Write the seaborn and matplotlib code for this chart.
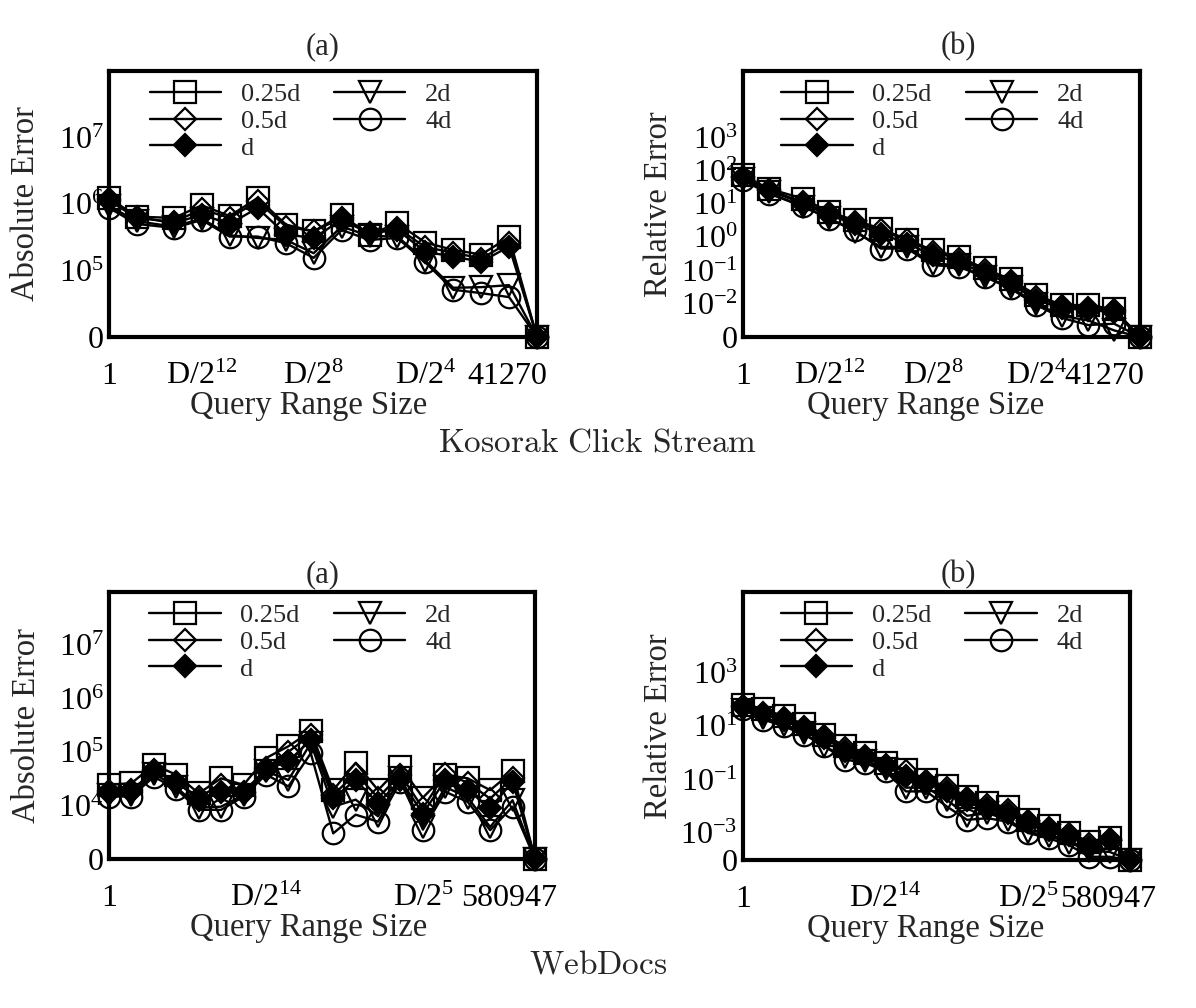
import numpy as np
import pandas as pd
import matplotlib
matplotlib.use("Agg")
import matplotlib.pyplot as plt
import seaborn as sns
from matplotlib.ticker import FixedLocator, NullLocator

sns.set_theme(style="white")
plt.rcParams.update({
    "font.family": ["Liberation Serif", "DejaVu Serif"],
    "mathtext.fontset": "custom",
    "mathtext.rm": "Liberation Serif",
    "mathtext.it": "Liberation Serif:italic",
    "mathtext.bf": "Liberation Serif:bold",
    "axes.edgecolor": "black",
    "axes.linewidth": 3.0,
    "xtick.color": "black",
    "ytick.color": "black",
})

# ---------------- data ----------------
series_names = ["0.25d", "0.5d", "d", "2d", "4d"]

# Kosorak Click Stream: query range sizes (1, 2, D/2^13 ... D)
kosarak_sizes = [1, 2, 5, 10, 20, 40, 81, 161, 322, 645, 1290, 2579, 5159, 10318, 20635, 41270]

kosarak_abs_025d = [1.23e6, 6.46e5, 6.17e5, 9.55e5, 6.61e5, 1.23e6, 4.90e5, 3.89e5, 6.76e5, 3.47e5, 5.13e5, 2.63e5, 2.04e5, 1.74e5, 3.16e5, 0]
kosarak_abs_05d = [1.12e6, 6.17e5, 5.37e5, 8.32e5, 6.17e5, 1.10e6, 4.57e5, 3.89e5, 6.17e5, 3.63e5, 4.37e5, 2.24e5, 1.86e5, 1.51e5, 2.63e5, 0]
kosarak_abs_d = [1.17e6, 6.46e5, 5.13e5, 6.92e5, 5.01e5, 8.71e5, 3.47e5, 3.09e5, 5.75e5, 3.63e5, 4.07e5, 1.91e5, 1.62e5, 1.35e5, 2.29e5, 0]
kosarak_abs_2d = [9.33e5, 5.50e5, 4.57e5, 6.03e5, 3.39e5, 3.09e5, 2.88e5, 1.82e5, 4.57e5, 3.31e5, 3.24e5, 1.41e5, 5.50e4, 5.62e4, 6.03e4, 0]
kosarak_abs_4d = [8.71e5, 5.01e5, 4.37e5, 5.75e5, 3.24e5, 3.24e5, 2.57e5, 1.55e5, 4.07e5, 2.88e5, 3.09e5, 1.32e5, 5.13e4, 4.57e4, 3.98e4, 0]

kosarak_rel_025d = [72.4, 28.8, 14.5, 5.75, 3.24, 1.82, 0.851, 0.407, 0.257, 0.115, 0.0537, 0.0182, 0.00912, 0.00912, 0.00692, 0]
kosarak_rel_05d = [63.1, 26.9, 11.2, 5.25, 2.88, 1.62, 0.813, 0.363, 0.224, 0.100, 0.0468, 0.0158, 0.00832, 0.00759, 0.00631, 0]
kosarak_rel_d = [64.6, 25.7, 10.2, 4.57, 2.57, 1.29, 0.646, 0.288, 0.182, 0.0813, 0.0407, 0.0129, 0.00741, 0.00646, 0.00562, 0]
kosarak_rel_2d = [55.0, 22.4, 8.13, 3.80, 1.45, 0.513, 0.513, 0.162, 0.145, 0.0646, 0.0316, 0.0100, 0.00427, 0.00316, 0.00158, 0]
kosarak_rel_4d = [51.3, 20.4, 8.51, 3.63, 1.62, 0.457, 0.457, 0.145, 0.129, 0.0646, 0.0288, 0.00912, 0.00372, 0.00229, 0.00251, 0]

# WebDocs: query points (equally spaced positions on the axis)
webdocs_points = [0, 1, 2, 3, 4, 5, 6, 7, 8, 9, 10, 11, 12, 13, 14, 15, 16, 17, 18, 19]

webdocs_abs_025d = [2.45e4, 2.63e4, 5.75e4, 3.80e4, 1.70e4, 3.24e4, 2.45e4, 7.76e4, 1.29e5, 2.45e5, 1.95e4, 6.31e4, 1.95e4, 5.37e4, 1.41e4, 3.80e4, 3.24e4, 1.95e4, 4.37e4, 0]
webdocs_abs_05d = [1.86e4, 1.78e4, 4.68e4, 2.63e4, 1.48e4, 2.40e4, 1.70e4, 5.01e4, 1.02e5, 2.09e5, 1.58e4, 3.98e4, 1.41e4, 3.80e4, 8.91e3, 3.98e4, 2.69e4, 1.35e4, 3.31e4, 0]
webdocs_abs_d = [1.74e4, 1.95e4, 4.37e4, 2.82e4, 1.29e4, 1.82e4, 1.82e4, 4.68e4, 6.76e4, 1.70e5, 1.38e4, 3.02e4, 1.10e4, 3.02e4, 7.08e3, 3.02e4, 1.95e4, 8.91e3, 2.82e4, 0]
webdocs_abs_2d = [1.58e4, 1.58e4, 3.98e4, 2.24e4, 9.12e3, 9.55e3, 1.58e4, 4.37e4, 3.02e4, 1.48e5, 9.55e3, 1.29e4, 6.31e3, 3.31e4, 3.98e3, 2.24e4, 1.41e4, 3.98e3, 1.26e4, 0]
webdocs_abs_4d = [1.48e4, 1.48e4, 3.47e4, 2.04e4, 8.32e3, 8.32e3, 1.48e4, 3.80e4, 2.29e4, 9.55e4, 3.02e3, 6.76e3, 5.01e3, 2.82e4, 3.55e3, 1.82e4, 1.17e4, 3.47e3, 9.55e3, 0]

webdocs_rel_025d = [60.3, 41.7, 23.4, 11.5, 4.79, 1.74, 1.00, 0.417, 0.234, 0.100, 0.0562, 0.0234, 0.0132, 0.00912, 0.00316, 0.00178, 0.00100, 0.00049, 0.000646, 0]
webdocs_rel_05d = [50.1, 31.6, 20.0, 8.91, 4.17, 1.51, 0.741, 0.363, 0.204, 0.0871, 0.0479, 0.0204, 0.0112, 0.00708, 0.00282, 0.00158, 0.000933, 0.000398, 0.000603, 0]
webdocs_rel_d = [55.0, 26.9, 17.4, 7.41, 3.63, 1.15, 0.646, 0.316, 0.132, 0.0741, 0.0363, 0.0178, 0.00851, 0.00562, 0.00251, 0.00132, 0.000851, 0.000316, 0.000562, 0]
webdocs_rel_2d = [39.8, 19.1, 11.2, 5.25, 1.74, 0.708, 0.479, 0.240, 0.0501, 0.0501, 0.0178, 0.00447, 0.00562, 0.00316, 0.00112, 0.000794, 0.000447, 0.000224, 0.000200, 0]
webdocs_rel_4d = [41.7, 17.4, 9.77, 4.79, 1.74, 0.562, 0.417, 0.204, 0.0363, 0.0363, 0.0100, 0.00316, 0.00363, 0.00269, 0.00102, 0.000646, 0.000363, 0.000132, 0.000132, 0]

kosarak_D = 41270
webdocs_D = 580947

# ---------------- styles ----------------
MARKERS = {"0.25d": "s", "0.5d": "D", "d": "D", "2d": "v", "4d": "o"}
MSIZE = {"0.25d": 15.5, "0.5d": 11.0, "d": 11.0, "2d": 15.5, "4d": 15.5}
FACE = {"0.25d": "none", "0.5d": "none", "d": "black", "2d": "none", "4d": "none"}
ZORD = {"0.25d": 3, "0.5d": 4, "d": 6, "2d": 5, "4d": 5}

W, H = 1196, 1008
fig = plt.figure(figsize=(W / 100, H / 100), dpi=100)


def rect(x0, y0, x1, y1):
    return [x0 / W, 1 - y1 / H, (x1 - x0) / W, (y1 - y0) / H]


def make_scale(floor):
    lo = 10.0 ** floor

    def fwd(v):
        v = np.asarray(v, dtype=float)
        return np.log10(np.maximum(v, lo))

    def inv(y):
        return 10.0 ** np.asarray(y, dtype=float)

    return fwd, inv


panels = [
    dict(box=(109, 71, 537, 337), x=kosarak_sizes, xlog=True,
         ys=[kosarak_abs_025d, kosarak_abs_05d, kosarak_abs_d, kosarak_abs_2d, kosarak_abs_4d],
         floor=4, top=1e8, yticks=[0, 1e5, 1e6, 1e7],
         ylabels=["0", "$10^{5}$", "$10^{6}$", "$10^{7}$"], ylabel="Absolute Error",
         xticks=[1, kosarak_D / 2**12, kosarak_D / 2**8, kosarak_D / 2**4],
         xlabels=["1", "D/2$^{12}$", "D/2$^{8}$", "D/2$^{4}$"],
         endpos=2**14.26, endlabel=str(kosarak_D), ylc=-0.158, xlc=0.467),
    dict(box=(743, 71, 1140, 337), x=kosarak_sizes, xlog=True,
         ys=[kosarak_rel_025d, kosarak_rel_05d, kosarak_rel_d, kosarak_rel_2d, kosarak_rel_4d],
         floor=-3, top=1e5, yticks=[0, 1e-2, 1e-1, 1e0, 1e1, 1e2, 1e3],
         ylabels=["0", "$10^{-2}$", "$10^{-1}$", "$10^{0}$", "$10^{1}$", "$10^{2}$", "$10^{3}$"],
         ylabel="Relative Error",
         xticks=[1, kosarak_D / 2**12, kosarak_D / 2**8, kosarak_D / 2**4],
         xlabels=["1", "D/2$^{12}$", "D/2$^{8}$", "D/2$^{4}$"],
         endpos=2**13.95, endlabel=str(kosarak_D), ylc=-0.175, xlc=0.461),
    dict(box=(109, 592, 535, 859), x=webdocs_points, xlog=False,
         ys=[webdocs_abs_025d, webdocs_abs_05d, webdocs_abs_d, webdocs_abs_2d, webdocs_abs_4d],
         floor=3, top=1e8, yticks=[0, 1e4, 1e5, 1e6, 1e7],
         ylabels=["0", "$10^{4}$", "$10^{5}$", "$10^{6}$", "$10^{7}$"], ylabel="Absolute Error",
         xticks=[0, 7, 14], xlabels=["1", "D/2$^{14}$", "D/2$^{5}$"],
         endpos=17.85, endlabel=str(webdocs_D), ylc=-0.158, xlc=0.469),
    dict(box=(743, 592, 1130, 860), x=webdocs_points, xlog=False,
         ys=[webdocs_rel_025d, webdocs_rel_05d, webdocs_rel_d, webdocs_rel_2d, webdocs_rel_4d],
         floor=-4, top=1e6, yticks=[0, 1e-3, 1e-1, 1e1, 1e3],
         ylabels=["0", "$10^{-3}$", "$10^{-1}$", "$10^{1}$", "$10^{3}$"], ylabel="Relative Error",
         xticks=[0, 7, 14], xlabels=["1", "D/2$^{14}$", "D/2$^{5}$"],
         endpos=17.95, endlabel=str(webdocs_D), ylc=-0.178, xlc=0.473),
]

TICKFS = 23
LABFS = 23.5
for p in panels:
    ax = fig.add_axes(rect(*p["box"]))
    for name, yv in zip(series_names, p["ys"]):
        df = pd.DataFrame({"x": p["x"], "y": yv})
        sns.lineplot(data=df, x="x", y="y", ax=ax, color="black", linewidth=1.7,
                     marker=MARKERS[name], markersize=MSIZE[name],
                     markerfacecolor=FACE[name], markeredgecolor="black",
                     markeredgewidth=1.6, clip_on=False, zorder=ZORD[name],
                     label=name, estimator=None, sort=False, legend=False)
    fwd, inv = make_scale(p["floor"])
    ax.set_yscale("function", functions=(fwd, inv))
    ax.set_ylim(0, p["top"])
    ax.yaxis.set_major_locator(FixedLocator(p["yticks"]))
    ax.set_yticklabels(p["ylabels"])
    ax.yaxis.set_minor_locator(NullLocator())
    if p["xlog"]:
        ax.set_xscale("log", base=2)
    ax.set_xlim(p["x"][0], p["x"][-1])
    ax.set_xticks(p["xticks"])
    ax.set_xticklabels(p["xlabels"])
    ax.set_xticks([p["endpos"]], minor=True)
    ax.set_xticklabels([p["endlabel"]], minor=True)
    ax.tick_params(axis="both", which="major", direction="in", length=6, width=1.2,
                   labelsize=TICKFS)
    ax.tick_params(axis="x", which="both", pad=34, labelsize=TICKFS)
    ax.tick_params(axis="x", which="minor", length=0)
    ax.tick_params(axis="y", pad=4)
    for lab in ax.get_xticklabels(which="both"):
        lab.set_verticalalignment("baseline")
    ax.tick_params(top=False, right=False)
    ax.set_ylabel(p["ylabel"], fontsize=LABFS)
    ax.yaxis.set_label_coords(p["ylc"], 0.5)
    ax.set_xlabel("Query Range Size", fontsize=LABFS, va="top")
    ax.xaxis.set_label_coords(p["xlc"], -0.2)
    for s in ax.spines.values():
        s.set_linewidth(3.0)
        s.set_zorder(10)
    handles, labels = ax.get_legend_handles_labels()
    ax.legend(handles, labels, ncol=2, loc="upper left", bbox_to_anchor=(0.07, 0.995),
              frameon=False, fontsize=19, handlelength=2.7, handletextpad=0.75,
              columnspacing=1.3, labelspacing=0.12, borderaxespad=0, numpoints=1)

for x, y, t in [(323, 47, "(a)"), (958, 47, "(b)"), (323, 575, "(a)"), (958, 575, "(b)")]:
    fig.text(x / W, 1 - y / H, t, ha="center", va="center", fontsize=22)

fig.text(598 / W, 1 - 443 / H, r"$\mathrm{Kosorak\ Click\ Stream}$", math_fontfamily="cm",
         ha="center", va="center", fontsize=24)
fig.text(598 / W, 1 - 965 / H, r"$\mathrm{WebDocs}$", math_fontfamily="cm",
         ha="center", va="center", fontsize=24)

fig.savefig("out.png", dpi=100, facecolor="white")
